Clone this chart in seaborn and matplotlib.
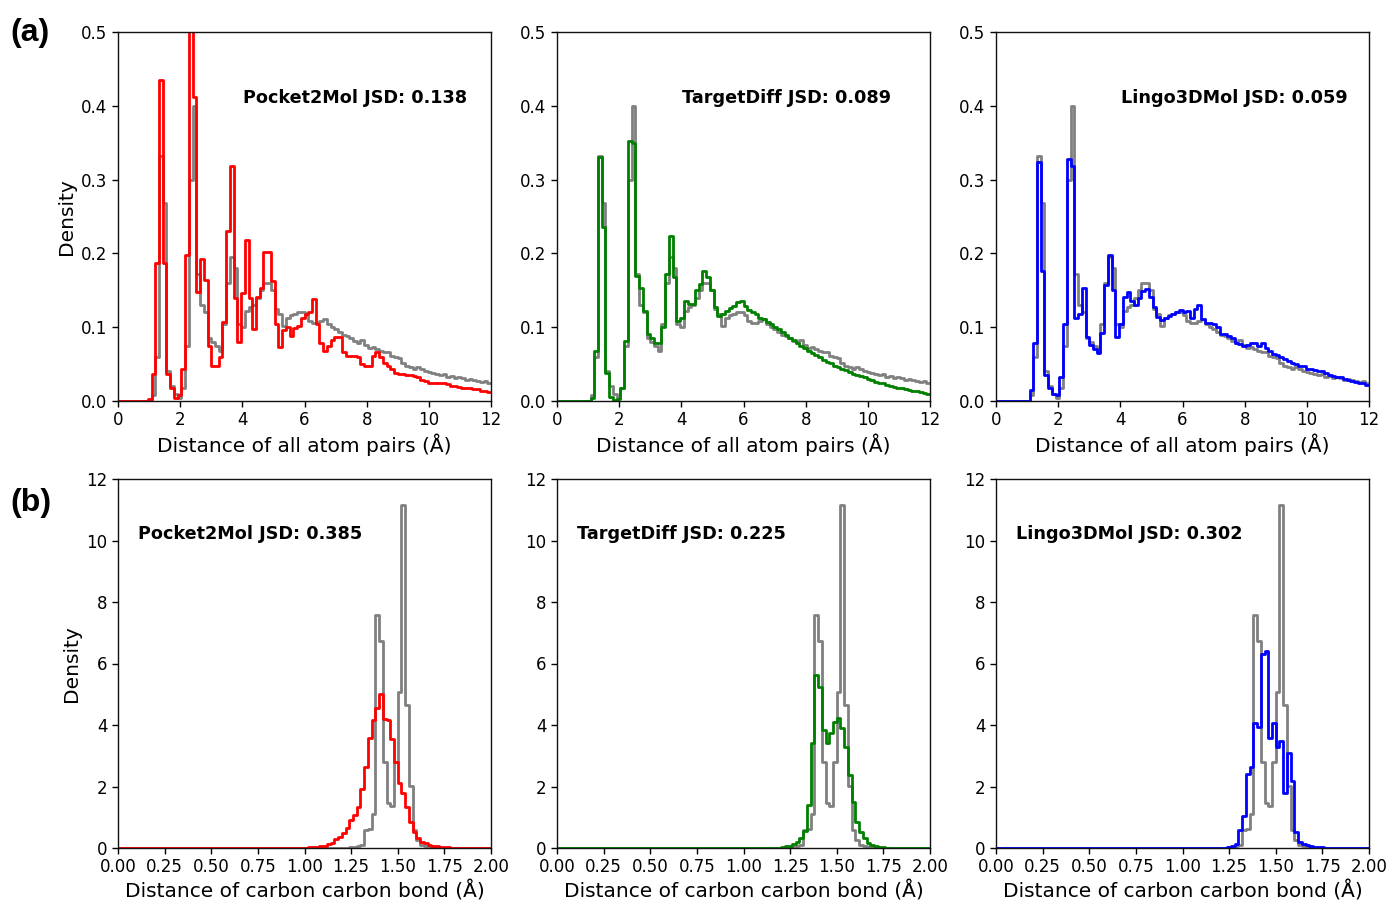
import numpy as np
import pandas as pd
import seaborn as sns
import matplotlib
matplotlib.use("Agg")
import matplotlib.pyplot as plt

# ---------------- data (density per bin) ----------------
# Row (a): distance of all atom pairs, 100 bins over 0-12 Å (bin width 0.12)
PAIR_EDGES = np.linspace(0, 12, 101)
PAIR_REF = [0, 0, 0, 0, 0, 0, 0, 0, 0, 0.008, 0.060, 0.332, 0.268, 0.040, 0.020, 0.010, 0.004, 0.018, 0.075, 0.300,
            0.400, 0.172, 0.130, 0.120, 0.085, 0.080, 0.075, 0.068, 0.105, 0.160,
            0.195, 0.180, 0.104, 0.100, 0.122, 0.128, 0.130, 0.140, 0.150, 0.160,
            0.160, 0.150, 0.125, 0.118, 0.102, 0.113, 0.117, 0.118, 0.120, 0.120,
            0.116, 0.109, 0.106, 0.106, 0.108, 0.111, 0.104, 0.100, 0.097, 0.094,
            0.090, 0.088, 0.086, 0.081, 0.079, 0.082, 0.076, 0.072, 0.073, 0.070,
            0.068, 0.066, 0.067, 0.061, 0.060, 0.058, 0.051, 0.047, 0.046, 0.044,
            0.046, 0.043, 0.041, 0.039, 0.038, 0.037, 0.035, 0.036, 0.033, 0.034,
            0.031, 0.033, 0.031, 0.029, 0.030, 0.028, 0.027, 0.026, 0.027, 0.025]
PAIR_POCKET2MOL = [0, 0, 0, 0, 0, 0, 0, 0, 0.003, 0.037, 0.187, 0.435, 0.187, 0.037, 0.018, 0.004, 0.008, 0.044, 0.198, 0.55,
                   0.412, 0.148, 0.193, 0.164, 0.074, 0.047, 0.047, 0.060, 0.107, 0.230,
                   0.318, 0.139, 0.080, 0.146, 0.218, 0.139, 0.098, 0.141, 0.153, 0.202,
                   0.202, 0.162, 0.104, 0.073, 0.096, 0.100, 0.088, 0.099, 0.102, 0.112,
                   0.118, 0.120, 0.138, 0.104, 0.079, 0.068, 0.075, 0.082, 0.087, 0.087,
                   0.066, 0.061, 0.061, 0.061, 0.059, 0.050, 0.048, 0.048, 0.061, 0.066,
                   0.059, 0.052, 0.048, 0.043, 0.038, 0.037, 0.036, 0.035, 0.035, 0.034,
                   0.032, 0.029, 0.027, 0.025, 0.025, 0.025, 0.025, 0.024, 0.023, 0.021,
                   0.020, 0.019, 0.018, 0.017, 0.017, 0.016, 0.016, 0.014, 0.014, 0.012]
PAIR_TARGETDIFF = [0, 0, 0, 0, 0, 0, 0, 0, 0, 0.004, 0.068, 0.331, 0.236, 0.038, 0.005, 0.001, 0.003, 0.018, 0.081, 0.352,
                   0.350, 0.170, 0.153, 0.122, 0.091, 0.086, 0.079, 0.079, 0.100, 0.172,
                   0.223, 0.168, 0.109, 0.113, 0.135, 0.131, 0.131, 0.150, 0.159, 0.176,
                   0.168, 0.150, 0.127, 0.115, 0.118, 0.122, 0.126, 0.129, 0.134, 0.135,
                   0.129, 0.123, 0.120, 0.118, 0.113, 0.111, 0.107, 0.104, 0.100, 0.097,
                   0.093, 0.090, 0.085, 0.082, 0.078, 0.075, 0.072, 0.068, 0.065, 0.062,
                   0.059, 0.056, 0.053, 0.051, 0.048, 0.046, 0.044, 0.042, 0.039, 0.037,
                   0.035, 0.034, 0.032, 0.030, 0.028, 0.026, 0.025, 0.024, 0.022, 0.021,
                   0.019, 0.018, 0.017, 0.016, 0.015, 0.014, 0.013, 0.012, 0.011, 0.010]
PAIR_LINGO3DMOL = [0, 0, 0, 0, 0, 0, 0, 0, 0, 0.015, 0.078, 0.324, 0.176, 0.035, 0.017, 0.010, 0.008, 0.033, 0.105, 0.328,
                   0.318, 0.112, 0.118, 0.153, 0.087, 0.076, 0.070, 0.065, 0.092, 0.157,
                   0.198, 0.150, 0.087, 0.105, 0.141, 0.148, 0.135, 0.130, 0.139, 0.149,
                   0.152, 0.141, 0.128, 0.114, 0.110, 0.113, 0.115, 0.118, 0.121, 0.123,
                   0.120, 0.122, 0.113, 0.125, 0.130, 0.111, 0.106, 0.106, 0.104, 0.100,
                   0.091, 0.091, 0.088, 0.086, 0.079, 0.077, 0.075, 0.076, 0.079, 0.078,
                   0.075, 0.078, 0.072, 0.068, 0.064, 0.062, 0.060, 0.057, 0.054, 0.052,
                   0.050, 0.048, 0.048, 0.044, 0.043, 0.042, 0.040, 0.040, 0.038, 0.035,
                   0.034, 0.033, 0.032, 0.030, 0.029, 0.027, 0.026, 0.025, 0.024, 0.022]

# Row (b): carbon-carbon bond length, 100 bins over 0-2 Å (bin width 0.02)
CC_EDGES = np.linspace(0, 2, 101)
CC_ZEROS_BELOW_1A = [0] * 50  # all bins below 1.00 Å read as zero
CC_REF = CC_ZEROS_BELOW_1A + [0, 0, 0, 0, 0, 0, 0, 0, 0, 0,
                              0.01, 0.01, 0.02, 0.03, 0.05, 0.10, 0.59, 0.62, 1.10, 7.58,
                              6.73, 2.81, 1.45, 1.37, 2.81, 5.08, 11.15, 4.65, 2.02, 0.60,
                              0.25, 0.10, 0.05, 0.03, 0.02, 0.01, 0, 0, 0, 0,
                              0, 0, 0, 0, 0, 0, 0, 0, 0, 0]
CC_POCKET2MOL = CC_ZEROS_BELOW_1A + [0.01, 0.02, 0.03, 0.04, 0.06, 0.08, 0.12, 0.17, 0.28, 0.37,
                                     0.48, 0.64, 0.91, 1.07, 1.34, 1.91, 2.64, 3.57, 4.16, 4.54,
                                     5.01, 4.18, 4.16, 3.53, 2.81, 2.10, 1.80, 1.34, 0.86, 0.53,
                                     0.31, 0.21, 0.15, 0.10, 0.07, 0.05, 0.04, 0.03, 0.02, 0.015,
                                     0.01, 0.01, 0.005, 0.005, 0, 0, 0, 0, 0, 0]
CC_TARGETDIFF = CC_ZEROS_BELOW_1A + [0, 0, 0, 0, 0, 0, 0, 0, 0, 0.01,
                                     0.02, 0.05, 0.08, 0.13, 0.21, 0.31, 0.56, 1.40, 3.43, 5.63,
                                     5.25, 3.84, 3.40, 3.73, 4.11, 4.22, 3.89, 3.30, 2.37, 1.51,
                                     0.86, 0.53, 0.31, 0.17, 0.10, 0.06, 0.04, 0.02, 0.01, 0,
                                     0, 0, 0, 0, 0, 0, 0, 0, 0, 0]
CC_LINGO3DMOL = CC_ZEROS_BELOW_1A + [0, 0, 0, 0, 0, 0, 0, 0, 0, 0,
                                     0, 0, 0.02, 0.06, 0.13, 0.59, 1.04, 2.41, 2.64, 4.05,
                                     3.95, 6.31, 6.42, 3.57, 4.05, 3.27, 3.49, 1.78, 3.08, 2.19,
                                     0.53, 0.21, 0.13, 0.09, 0.06, 0.04, 0.03, 0.02, 0.01, 0,
                                     0, 0, 0, 0, 0, 0, 0, 0, 0, 0]

MODELS = ["Pocket2Mol", "TargetDiff", "Lingo3DMol"]
COLORS = ["red", "green", "blue"]
JSD_PAIR = ["0.138", "0.089", "0.059"]
JSD_CC = ["0.385", "0.225", "0.302"]

PAIR_TICKS = [0, 2, 4, 6, 8, 10, 12]
PAIR_YTICKS = [0.0, 0.1, 0.2, 0.3, 0.4, 0.5]
CC_TICKS = [0.00, 0.25, 0.50, 0.75, 1.00, 1.25, 1.50, 1.75, 2.00]
CC_YTICKS = [0, 2, 4, 6, 8, 10, 12]

# ---------------- plotting ----------------
sns.set_style("ticks")
plt.rcParams["font.family"] = ["DejaVu Sans"]
for key in ("text.color", "axes.labelcolor", "xtick.color", "ytick.color", "axes.edgecolor"):
    plt.rcParams[key] = "black"

fig = plt.figure(figsize=(13.91, 9.02), dpi=100)

W, H = 373 / 1391, 369 / 902
lefts = [118 / 1391, 557 / 1391, 996 / 1391]
bottom_top = 1 - 401 / 902
bottom_bot = 1 - 848 / 902


def draw(ax, edges, ref, gen, color):
    centers = (edges[:-1] + edges[1:]) / 2
    bins = [float(e) for e in edges]
    for vals, c in ((ref, "#808080"), (gen, color)):
        df = pd.DataFrame({"d": centers, "w": np.asarray(vals, dtype=float)})
        sns.histplot(data=df, x="d", weights="w", bins=bins, element="step",
                     fill=False, color=c, linewidth=2.0, ax=ax)


def style(ax):
    for s in ax.spines.values():
        s.set_visible(True)
        s.set_linewidth(1.0)
        s.set_color("#111111")
    ax.tick_params(labelsize=12, length=4, width=1, colors="black")


pair_gen = [PAIR_POCKET2MOL, PAIR_TARGETDIFF, PAIR_LINGO3DMOL]
cc_gen = [CC_POCKET2MOL, CC_TARGETDIFF, CC_LINGO3DMOL]

LABEL_FS = 14.5
NOTE_FS = 12.7

for i in range(3):
    ax = fig.add_axes([lefts[i], bottom_top, W, H])
    draw(ax, PAIR_EDGES, PAIR_REF, pair_gen[i], COLORS[i])
    ax.set_xlim(0, 12)
    ax.set_ylim(0, 0.5)
    ax.set_xticks(PAIR_TICKS)
    ax.set_yticks(PAIR_YTICKS)
    ax.set_yticklabels([f"{v:.1f}" for v in PAIR_YTICKS])
    ax.set_xlabel("Distance of all atom pairs (Å)", fontsize=LABEL_FS, labelpad=3)
    ax.set_ylabel("Density" if i == 0 else "", fontsize=LABEL_FS)
    ax.text(0.335, 0.82, f"{MODELS[i]} JSD: {JSD_PAIR[i]}", transform=ax.transAxes,
            fontsize=NOTE_FS, fontweight="bold", ha="left", va="center", color="black")
    style(ax)

    ax2 = fig.add_axes([lefts[i], bottom_bot, W, H])
    draw(ax2, CC_EDGES, CC_REF, cc_gen[i], COLORS[i])
    ax2.set_xlim(0, 2)
    ax2.set_ylim(0, 12)
    ax2.set_xticks(CC_TICKS)
    ax2.set_xticklabels([f"{v:.2f}" for v in CC_TICKS])
    ax2.set_yticks(CC_YTICKS)
    ax2.set_xlabel("Distance of carbon carbon bond (Å)", fontsize=LABEL_FS, labelpad=3)
    ax2.set_ylabel("Density" if i == 0 else "", fontsize=LABEL_FS)
    ax2.text(0.054, 0.851, f"{MODELS[i]} JSD: {JSD_CC[i]}", transform=ax2.transAxes,
             fontsize=NOTE_FS, fontweight="bold", ha="left", va="center", color="black")
    style(ax2)

fig.text(10 / 1391, 1 - 33 / 902, "(a)", fontsize=23, fontweight="bold", color="black",
         family=["Liberation Sans", "DejaVu Sans"], ha="left", va="center")
fig.text(10 / 1391, 1 - 503 / 902, "(b)", fontsize=23, fontweight="bold", color="black",
         family=["Liberation Sans", "DejaVu Sans"], ha="left", va="center")

fig.savefig("out.png", dpi=100)
